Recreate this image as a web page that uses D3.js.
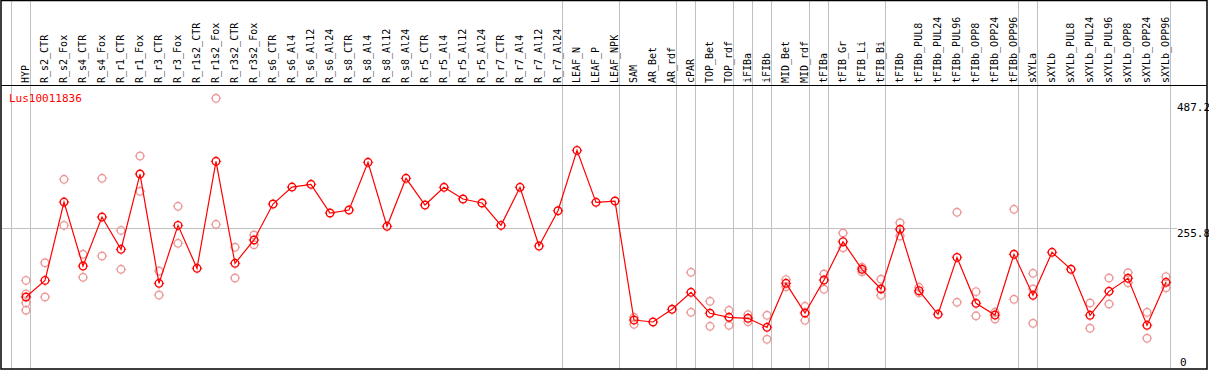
<!DOCTYPE html>
<html>
<head>
<meta charset="utf-8">
<script src="https://cdn.jsdelivr.net/npm/d3@7"></script>
<style>
    body { margin: 0; background: #fff; }
    text { font-family: "DejaVu Sans Mono", monospace; }
</style>
</head>
<body>
<div id="chart"></div>
<script>
/*
expression profile of one gene over sample groups
 */

var geneName = "Lus10011836";

var categories = ["HYP", "R_s2_CTR", "R_s2_Fox", "R_s4_CTR", "R_s4_Fox", "R_r1_CTR", "R_r1_Fox",
    "R_r3_CTR", "R_r3_Fox", "R_r1s2_CTR", "R_r1s2_Fox", "R_r3s2_CTR", "R_r3s2_Fox", "R_s6_CTR",
    "R_s6_Al4", "R_s6_Al12", "R_s6_Al24", "R_s8_CTR", "R_s8_Al4", "R_s8_Al12", "R_s8_Al24",
    "R_r5_CTR", "R_r5_Al4", "R_r5_Al12", "R_r5_Al24", "R_r7_CTR", "R_r7_Al4", "R_r7_Al12",
    "R_r7_Al24", "LEAF_N", "LEAF_P", "LEAF_NPK", "SAM", "AR_Bet", "AR_rdf", "cPAR", "TOP_Bet",
    "TOP_rdf", "iFIBa", "iFIBb", "MID_Bet", "MID_rdf", "tFIBa", "tFIB_Gr", "tFIB_Li", "tFIB_Bi",
    "tFIBb", "tFIBb_PUL8", "tFIBb_PUL24", "tFIBb_PUL96", "tFIBb_OPP8", "tFIBb_OPP24", "tFIBb_OPP96",
    "sXYLa", "sXYLb", "sXYLb_PUL8", "sXYLb_PUL24", "sXYLb_PUL96", "sXYLb_OPP8", "sXYLb_OPP24",
    "sXYLb_OPP96"];

// mean value per sample
var meanValues = [133.5, 163, 302.5, 188.6, 275.8, 218.3, 352.4, 157.8, 261, 184.5, 375, 193.4, 235,
    299, 329.2, 334, 283, 288.3, 373.2, 259.3, 344.7, 297.2, 328.7, 307.9, 300.8, 261, 328.7, 224.2,
    287, 394.5, 302, 304.3, 92.5, 89, 111.6, 141.8, 104.5, 97.3, 95.6, 79.5, 157.8, 105, 163.7, 231.9,
    182.8, 147.7, 254, 144.7, 102.7, 204, 122.3, 101.4, 209.5, 136.5, 213, 182.8, 100.9, 143.6, 166.8,
    83.1, 159.6];

// single replicates (faint circles)
var replicates = [[163, 139, 123, 110], [194.5, 133.5], [343, 261], [209.5, 168.5], [344.7, 206.4],
    [252, 182.7], [384.4, 321.6], [179.7, 137], [294.9, 229], [], [487.2, 262.8], [222, 167.3],
    [243.8, 226.5], [], [], [], [], [], [], [], [], [], [], [], [], [], [], [], [], [], [], [],
    [97.3, 84.9], [], [], [177.4, 106.2], [125.8, 81.3], [109.8, 83.1], [102, 89.5], [100.9, 58.2],
    [164.3, 151.8], [116.9, 92], [174.4, 147.2], [247.4, 221.2], [186.3, 178.5], [165, 136.5],
    [265.7, 242], [150.7, 141], [], [284.2, 124], [143, 100], [106.2, 94.3], [289.6, 129.4],
    [175.6, 147.7, 86.7], [], [], [122.8, 77.8], [167.3, 121], [176.7, 158.9], [106.2, 60],
    [169.6, 150]];

// last sample of each group (separator lines)
var groupEnds = ["HYP", "R_r7_Al24", "LEAF_NPK", "AR_rdf", "cPAR", "TOP_rdf", "iFIBa", "iFIBb",
    "MID_rdf", "tFIBa", "tFIB_Bi", "tFIBb_OPP96", "sXYLa", "sXYLb_OPP96"];

var yTicks = [0, 255.8, 487.2];
var yMax = 487.2;

var width = 1209;
var height = 370;

var svg = d3.select("#chart")
    .append("svg")
    .attr("width", width)
    .attr("height", height);

//scales
var xScale = d3.scalePoint()
    .domain(categories)
    .range([26, 1166]);
var step = xScale.step();

var yScale = d3.scaleLinear()
    .domain([0, yMax])
    .range([372, 98.3]);

//group separators
var sepX = [xScale(categories[0]) - step + 4].concat(groupEnds.map(function (c) {
    return xScale(c) + 4;
}));

svg.selectAll(".sep")
    .data(sepX)
    .enter().append("line")
    .attr("class", "sep")
    .attr("x1", function (d) { return Math.round(d) + 0.5; })
    .attr("x2", function (d) { return Math.round(d) + 0.5; })
    .attr("y1", 0)
    .attr("y2", 369)
    .attr("stroke", "#c0c0c0")
    .attr("stroke-width", 1);

//horizontal grid line (middle tick)
svg.append("line")
    .attr("x1", 2)
    .attr("x2", 1177)
    .attr("y1", Math.round(yScale(yTicks[1])) + 0.5)
    .attr("y2", Math.round(yScale(yTicks[1])) + 0.5)
    .attr("stroke", "#c0c0c0");

//frame
svg.append("rect")
    .attr("x", 1)
    .attr("y", 0.5)
    .attr("width", 1206)
    .attr("height", 368.5)
    .attr("fill", "none")
    .attr("stroke", "#000")
    .attr("stroke-width", 1.5);

svg.append("line")
    .attr("x1", 1)
    .attr("x2", 1207)
    .attr("y1", 85.5)
    .attr("y2", 85.5)
    .attr("stroke", "#000");

//sample labels
svg.selectAll(".lab")
    .data(categories)
    .enter().append("text")
    .attr("class", "lab")
    .attr("transform", function (d) {
        return "translate(" + (xScale(d) + 3) + ",83) rotate(-90)";
    })
    .attr("font-size", "10px")
    .attr("fill", "#000")
    .text(function (d) { return d; });

//value labels on the right
svg.selectAll(".ytick")
    .data(yTicks)
    .enter().append("text")
    .attr("class", "ytick")
    .attr("x", function (d, i) { return i === 0 ? 1180 : 1177; })
    .attr("y", function (d, i) {
        if (i === 0) return 366;
        return yScale(d) + (i === 2 ? 13 : 9);
    })
    .attr("font-size", "11px")
    .attr("fill", "#000")
    .text(function (d) { return d === 0 ? "0" : d.toFixed(1); });

svg.append("text")
    .attr("x", 9)
    .attr("y", 102)
    .attr("font-size", "11px")
    .attr("fill", "#ff0000")
    .text(geneName);

//marker helper: circle with tiny ticks
var markerPath = "M0,-5.2v1 M0,5.2v-1 M-5.2,0h1 M5.2,0h-1";

function addMarker(g, x, y, color) {
    g.append("circle")
        .attr("cx", x)
        .attr("cy", y)
        .attr("r", 3.8)
        .attr("fill", "none")
        .attr("stroke", color)
        .attr("stroke-width", 1.4);
    g.append("path")
        .attr("transform", "translate(" + x + "," + y + ")")
        .attr("d", markerPath)
        .attr("stroke", color)
        .attr("stroke-width", 1);
}

//replicates
var repG = svg.append("g");
replicates.forEach(function (reps, i) {
    reps.forEach(function (v) {
        addMarker(repG, xScale(categories[i]), yScale(v), "#eb9a9a");
    });
});

//mean line
var lineSegment = d3.line()
    .x(function (d, i) { return xScale(categories[i]); })
    .y(function (d) { return yScale(d); });

svg.append("path")
    .datum(meanValues)
    .attr("d", lineSegment)
    .attr("fill", "none")
    .attr("stroke", "#ff0000")
    .attr("stroke-width", 1.2);

var meanG = svg.append("g");
meanValues.forEach(function (v, i) {
    addMarker(meanG, xScale(categories[i]), yScale(v), "#ff0000");
});
</script>
</body>
</html>
